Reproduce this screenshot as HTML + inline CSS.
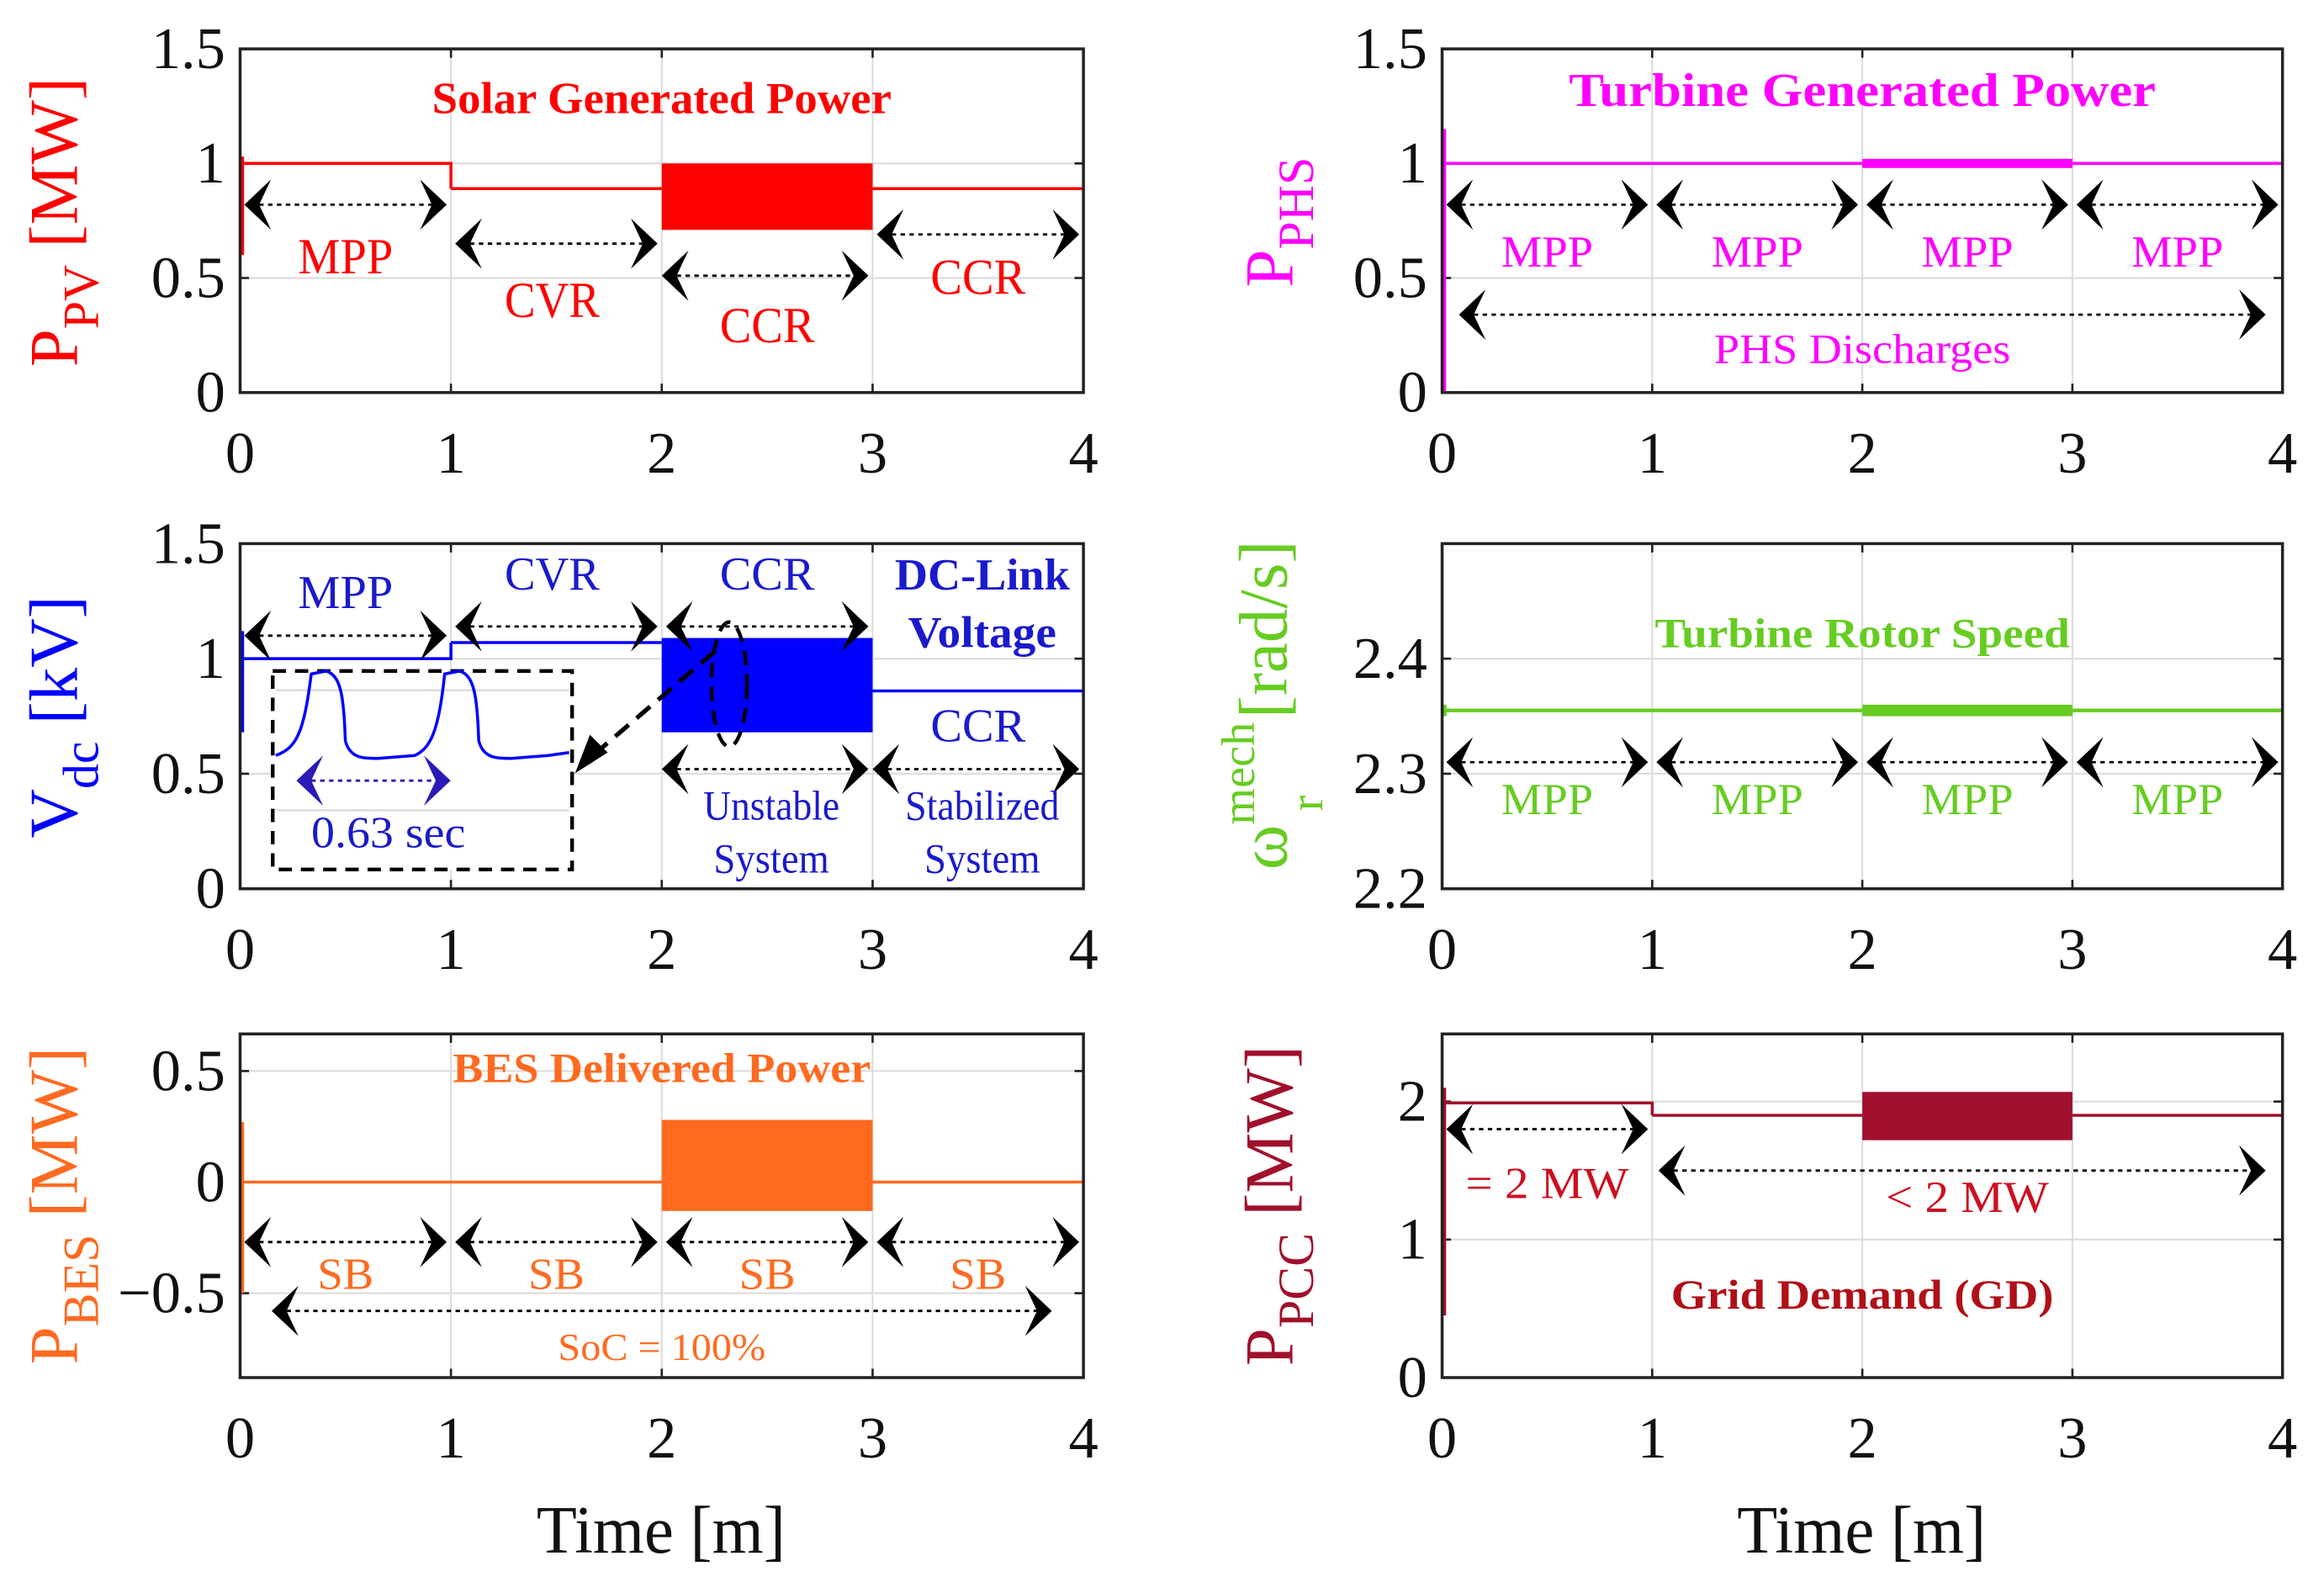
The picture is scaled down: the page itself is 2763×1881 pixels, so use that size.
<!DOCTYPE html>
<html><head><meta charset="utf-8">
<style>
html,body{margin:0;padding:0;background:#fff;}
svg{display:block;}
text{font-family:"Liberation Serif",serif;}
</style></head>
<body>
<svg id="fig" width="2763" height="1881" viewBox="0 0 1568 1068" preserveAspectRatio="none" xmlns="http://www.w3.org/2000/svg"></svg>
<script>
// ---- data ----
const timeTicks = [0,1,2,3,4];
const pvSteps = [[0,1,1.0],[1,2,0.89],[3,4,0.89]];
const pvBand = [2,3,0.71,1.0];
const pvSpike = [0.6,1.03];
const vdcSteps = [[0,1,1.0],[1,2,1.07],[3,4,0.86]];
const vdcBand = [2,3,0.68,1.09];
const vdcSpike = [0.68,1.12];
const besSteps = [[0,2,0.0],[3,4,0.0]];
const besBand = [2,3,-0.13,0.28];
const besSpike = [-0.5,0.27];
const phsSteps = [[0,2,1.0],[3,4,1.0]];
const phsBand = [2,3,0.98,1.02];
const phsSpike = [0,1.15];
const rotSteps = [[0,2,2.355],[3,4,2.355]];
const rotBand = [2,3,2.35,2.36];
const rotSpike = [2.35,2.36];
const pccSteps = [[0,1,1.99],[1,2,1.9],[3,4,1.9]];
const pccBand = [2,3,1.72,2.07];
const pccSpike = [0.45,2.1];

const svg = document.getElementById('fig');
const NS = 'http://www.w3.org/2000/svg';
function mk(tag, attrs, parent){
  const e = document.createElementNS(NS, tag);
  for (const k in attrs) e.setAttribute(k, attrs[k]);
  (parent||svg).appendChild(e);
  return e;
}

function panel(cfg){
  const g = mk('g', {});
  
  
  const X = t => cfg.x0 + (t - 0) / 4 * (cfg.x1 - cfg.x0);
  const Y = v => cfg.y1 - (v - cfg.ymin) / (cfg.ymax - cfg.ymin) * (cfg.y1 - cfg.y0);
  timeTicks.forEach(t => { if (t>0 && t<4) mk('line',{x1:X(t),x2:X(t),y1:cfg.y0,y2:cfg.y1,stroke:'#dcdcdc','stroke-width':1.2},g); });
  cfg.yticks.forEach(v => mk('line',{x1:cfg.x0,x2:cfg.x1,y1:Y(v),y2:Y(v),stroke:'#dcdcdc','stroke-width':1.2},g));
  timeTicks.forEach(t => {
    mk('line',{x1:X(t),x2:X(t),y1:cfg.y1,y2:cfg.y1-6,stroke:'#222','stroke-width':1.5},g);
    mk('line',{x1:X(t),x2:X(t),y1:cfg.y0,y2:cfg.y0+6,stroke:'#222','stroke-width':1.5},g);
    const tl = mk('text',{x:X(t),y:cfg.y1+54,'font-size':40,'text-anchor':'middle',fill:'#111'},g);
    tl.textContent = t;
    
    
  });
  cfg.yticks.forEach((v,i) => {
    mk('line',{x1:cfg.x0,x2:cfg.x0+6,y1:Y(v),y2:Y(v),stroke:'#222','stroke-width':1.5},g);
    mk('line',{x1:cfg.x1,x2:cfg.x1-6,y1:Y(v),y2:Y(v),stroke:'#222','stroke-width':1.5},g);
    const tl = mk('text',{x:cfg.x0-10,y:Y(v)+13,'font-size':40,'text-anchor':'end',fill:'#111'},g);
    tl.textContent = cfg.ylabels[i];
    
    
  });
  const c = cfg.color;
  let d = `M${X(0.012)},${Y(cfg.spike[0])}L${X(0.012)},${Y(cfg.spike[1])}`;
  cfg.steps.forEach((s,i) => {
    d += `M${X(s[0])},${Y(s[2])}L${X(s[1])},${Y(s[2])}`;
    if (i+1 < cfg.steps.length && cfg.steps[i+1][0] === s[1]) d += `L${X(s[1])},${Y(cfg.steps[i+1][2])}`;
  });
  const ln = mk('path',{d:d,stroke:c,'stroke-width':cfg.lw||2,fill:'none'},g);
  
  
  const b = cfg.band;
  const bh = Math.max(Y(b[2]) - Y(b[3]), 5);
  const br = mk('rect',{x:X(b[0]),y:(Y(b[3])+Y(b[2]))/2-bh/2,width:X(b[1])-X(b[0]),height:bh,fill:c},g);
  
  
  const fr = mk('rect',{x:cfg.x0,y:cfg.y0,width:cfg.x1-cfg.x0,height:cfg.y1-cfg.y0,fill:'none',stroke:'#222','stroke-width':2},g);
  
  
  return {g,X,Y};
}

function arrow(g, xa, xb, y, col){
  col = col || '#000';
  const a = mk('g',{},g);
  
  
  mk('line',{x1:xa+10,x2:xb-10,y1:y,y2:y,stroke:col,'stroke-width':1.6,'stroke-dasharray':'3,3'},a);
  mk('polygon',{points:`${xa},${y} ${xa+18},${y-17} ${xa+10},${y} ${xa+18},${y+17}`,fill:col},a);
  mk('polygon',{points:`${xb},${y} ${xb-18},${y-17} ${xb-10},${y} ${xb-18},${y+17}`,fill:col},a);
}
function label(g, x, y, txt, col, size, bold, name, len){
  const t = mk('text',{x:x,y:y,'font-size':size,'text-anchor':'middle',fill:col},g);
  if (bold) t.setAttribute('font-weight','bold');
  if (len){ t.setAttribute('textLength',len); t.setAttribute('lengthAdjust','spacingAndGlyphs'); }
  t.textContent = txt;
  
  
  return t;
}
function ylab(cx, cy, main, sub, sup, unit, col, name){
  const t = mk('text',{transform:`translate(${cx},${cy}) rotate(-90)`,'text-anchor':'middle',fill:col,'font-size':46});
  
  
  const s1 = mk('tspan',{},t); s1.textContent = main;
  if (sup){
    const s3 = mk('tspan',{'font-size':32,dy:-22},t); s3.textContent = sup;
    const s2 = mk('tspan',{'font-size':32,dy:46,dx:-60},t); s2.textContent = sub;
    const s4 = mk('tspan',{dy:-24,dx:52},t); s4.textContent = unit;
  } else {
    const s2 = mk('tspan',{'font-size':34,dy:14},t); s2.textContent = sub;
    const s4 = mk('tspan',{dy:-14},t); s4.textContent = ' ' + unit;
  }
}

const L = [162,731], R = [973,1540];
const R1 = [33,265], R2 = [367,600], R3 = [698,930];

let p = panel({name:'pv-power-panel',x0:L[0],x1:L[1],y0:R1[0],y1:R1[1],ymin:0,ymax:1.5,yticks:[0,0.5,1,1.5],ylabels:['0','0.5','1','1.5'],color:'#ff0000',steps:pvSteps,band:pvBand,spike:pvSpike});
label(p.g,p.X(2.0),p.Y(1.22),'Solar Generated Power','#ff0000',30,true,'pv-title',310);
arrow(p.g,p.X(0.02),p.X(0.98),p.Y(0.82)); label(p.g,p.X(0.5),p.Y(0.52),'MPP','#ff0000',34,false,'mpp-label',64);
arrow(p.g,p.X(1.02),p.X(1.98),p.Y(0.65)); label(p.g,p.X(1.48),p.Y(0.33),'CVR','#ff0000',34,false,'cvr-label',64);
arrow(p.g,p.X(2.0),p.X(2.98),p.Y(0.51)); label(p.g,p.X(2.5),p.Y(0.22),'CCR','#ff0000',34,false,'ccr-label',64);
arrow(p.g,p.X(3.02),p.X(3.98),p.Y(0.69)); label(p.g,p.X(3.5),p.Y(0.43),'CCR','#ff0000',34,false,'ccr-label',64);
ylab(52,150,'P','PV','', '[MW]','#ff0000','pv-y-axis-title');

p = panel({name:'dc-link-voltage-panel',x0:L[0],x1:L[1],y0:R2[0],y1:R2[1],ymin:0,ymax:1.5,yticks:[0,0.5,1,1.5],ylabels:['0','0.5','1','1.5'],color:'#0000ff',steps:vdcSteps,band:vdcBand,spike:vdcSpike});
arrow(p.g,p.X(0.02),p.X(0.98),p.Y(1.1)); label(p.g,p.X(0.5),p.Y(1.22),'MPP','#1a1acc',32,false,'mpp-label',64);
arrow(p.g,p.X(1.02),p.X(1.98),p.Y(1.14)); label(p.g,p.X(1.48),p.Y(1.3),'CVR','#1a1acc',32,false,'cvr-label',64);
arrow(p.g,p.X(2.02),p.X(2.98),p.Y(1.14)); label(p.g,p.X(2.5),p.Y(1.3),'CCR','#1a1acc',32,false,'ccr-label',64);
label(p.g,p.X(3.52),p.Y(1.3),'DC-Link','#1a1acc',30,true,'dc-link-title',118);
label(p.g,p.X(3.52),p.Y(1.05),'Voltage','#1a1acc',30,true,'dc-link-title',100);
label(p.g,p.X(3.5),p.Y(0.64),'CCR','#1a1acc',32,false,'ccr-label',64);
arrow(p.g,p.X(2.0),p.X(2.98),p.Y(0.52)); arrow(p.g,p.X(3.0),p.X(3.98),p.Y(0.52));
label(p.g,p.X(2.52),p.Y(0.3),'Unstable','#1a1acc',28,false,'unstable-label',92);
label(p.g,p.X(2.52),p.Y(0.07),'System','#1a1acc',28,false,'unstable-label',78);
label(p.g,p.X(3.52),p.Y(0.3),'Stabilized','#1a1acc',28,false,'stabilized-label',104);
label(p.g,p.X(3.52),p.Y(0.07),'System','#1a1acc',28,false,'stabilized-label',78);
const ins = mk('g',{},p.g);


mk('rect',{x:184,y:453,width:202,height:134,fill:'#fff',stroke:'#000','stroke-width':2.5,'stroke-dasharray':'9,6'},ins);
mk('line',{x1:186,x2:384,y1:466,y2:466,stroke:'#ddd','stroke-width':1.5},ins);
mk('line',{x1:186,x2:384,y1:547,y2:547,stroke:'#ddd','stroke-width':1.5},ins);
mk('path',{d:'M186,510 C200,505 205,495 210,455 L220,453 C230,456 232,470 233,500 C236,512 245,512 255,512 L280,510 C290,505 296,495 300,455 L310,453 C320,456 322,470 323,500 C326,512 335,512 345,512 L370,510 L384,508',fill:'none',stroke:'#0000ff','stroke-width':2},ins);
arrow(ins,200,304,527,'#2a1ab8');
label(ins,262,572,'0.63 sec','#1a1acc',30,false,'period-label',104);
mk('ellipse',{cx:492,cy:462,rx:12,ry:42,fill:'none',stroke:'#000','stroke-width':2.5,'stroke-dasharray':'10,6'},p.g);
mk('line',{x1:482,y1:440,x2:400,y2:510,stroke:'#000','stroke-width':3,'stroke-dasharray':'12,7'},p.g);
mk('polygon',{points:'388,522 398,496 410,508',fill:'#000'},p.g);
ylab(52,484,'V','dc','', '[kV]','#0000ff','vdc-y-axis-title');

p = panel({name:'bes-power-panel',x0:L[0],x1:L[1],y0:R3[0],y1:R3[1],ymin:-0.88,ymax:0.667,yticks:[-0.5,0,0.5],ylabels:['\u22120.5','0','0.5'],color:'#ff6a20',steps:besSteps,band:besBand,spike:besSpike});
label(p.g,p.X(2.0),p.Y(0.45),'BES Delivered Power','#ff6a20',28,true,'bes-title',282);
[0,1,2,3].forEach(i => { arrow(p.g,p.X(i+0.02),p.X(i+0.98),p.Y(-0.27)); label(p.g,p.X(i+0.5),p.Y(-0.48),'SB','#ff6a20',30,false,'sb-label',38); });
arrow(p.g,p.X(0.15),p.X(3.85),p.Y(-0.58));
label(p.g,p.X(2.0),p.Y(-0.8),'SoC = 100%','#ff6a20',26,false,'soc-label',140);
ylab(52,814,'P','BES','', '[MW]','#ff6a20','bes-y-axis-title');
label(svg,446,1048,'Time [m]','#111',46,false,'x-axis-title',168);

p = panel({name:'phs-power-panel',x0:R[0],x1:R[1],y0:R1[0],y1:R1[1],ymin:0,ymax:1.5,yticks:[0,0.5,1,1.5],ylabels:['0','0.5','1','1.5'],color:'#ff00ff',steps:phsSteps,band:phsBand,spike:phsSpike});
label(p.g,p.X(2.0),p.Y(1.25),'Turbine Generated Power','#ff00ff',32,true,'phs-title',396);
[0,1,2,3].forEach(i => { arrow(p.g,p.X(i+0.02),p.X(i+0.98),p.Y(0.82)); label(p.g,p.X(i+0.5),p.Y(0.55),'MPP','#ff00ff',30,false,'mpp-label',62); });
arrow(p.g,p.X(0.08),p.X(3.92),p.Y(0.34));
label(p.g,p.X(2.0),p.Y(0.13),'PHS Discharges','#ff00ff',28,false,'phs-discharges-label',200);
ylab(872,150,'P','PHS','', '','#ff00ff','phs-y-axis-title');

p = panel({name:'rotor-speed-panel',x0:R[0],x1:R[1],y0:R2[0],y1:R2[1],ymin:2.2,ymax:2.5,yticks:[2.2,2.3,2.4],ylabels:['2.2','2.3','2.4'],color:'#66cc22',steps:rotSteps,band:rotBand,spike:rotSpike,lw:2.5});
label(p.g,p.X(2.0),p.Y(2.41),'Turbine Rotor Speed','#66cc22',28,true,'rotor-title',280);
[0,1,2,3].forEach(i => { arrow(p.g,p.X(i+0.02),p.X(i+0.98),p.Y(2.31)); label(p.g,p.X(i+0.5),p.Y(2.265),'MPP','#66cc22',30,false,'mpp-label',62); });
ylab(868,476,'\u03c9','r','mech','[rad/s]','#66cc22','rotor-y-axis-title');

p = panel({name:'pcc-power-panel',x0:R[0],x1:R[1],y0:R3[0],y1:R3[1],ymin:0,ymax:2.49,yticks:[0,1,2],ylabels:['0','1','2'],color:'#a0102c',steps:pccSteps,band:pccBand,spike:pccSpike});
arrow(p.g,p.X(0.02),p.X(0.98),p.Y(1.8));
label(p.g,p.X(0.5),p.Y(1.3),'= 2 MW','#cc1020',30,false,'equal-2mw-label',110);
arrow(p.g,p.X(1.03),p.X(3.92),p.Y(1.5));
label(p.g,p.X(2.5),p.Y(1.2),'< 2 MW','#cc1020',30,false,'less-2mw-label',110);
label(p.g,p.X(2.0),p.Y(0.5),'Grid Demand (GD)','#b01018',28,true,'pcc-title',258);
ylab(872,814,'P','PCC','', '[MW]','#a0102c','pcc-y-axis-title');
label(svg,1256,1048,'Time [m]','#111',46,false,'x-axis-title',168);
</script>
</body></html>
